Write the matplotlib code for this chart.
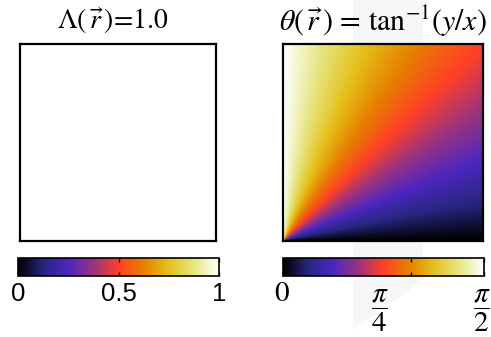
import numpy as np
import matplotlib
matplotlib.use('Agg')
import matplotlib.pyplot as plt
from matplotlib.patches import Polygon

plt.rcParams['mathtext.fontset'] = 'stix'
plt.rcParams['font.family'] = ['Liberation Serif', 'DejaVu Serif']

# data
n_grid = 200
lambda_value = 1.0
left_ticks = [0, 0.5, 1]
left_ticklabels = ['0', '0.5', '1']
right_tickmarks = [0, 1, np.pi / 2]
right_labels = [r'$0$', r'$\dfrac{\pi}{4}$', r'$\dfrac{\pi}{2}$']
right_label_vals = [0, np.pi / 4, np.pi / 2]

xs = np.linspace(0, 1, n_grid)
ys = np.linspace(0, 1, n_grid)
X, Y = np.meshgrid(xs, ys)
theta = np.arctan2(Y, X)
lam = np.full_like(X, lambda_value)

W, H = 491, 337
fig = plt.figure(figsize=(W / 100, H / 100), dpi=100)


def px_axes(x0, y0, x1, y1):
    return fig.add_axes([x0 / W, 1 - y1 / H, (x1 - x0) / W, (y1 - y0) / H])


# faint watermark behind everything
wm = [(353, 0), (423, 0), (423, 280), (353, 330)]
fig.add_artist(Polygon([(x / W, 1 - y / H) for x, y in wm], closed=True,
                       transform=fig.transFigure, facecolor='#f6f7f9',
                       edgecolor='none', zorder=-10))

cmap = plt.get_cmap('CMRmap')

ax1 = px_axes(20, 44, 216, 241)
ax1.imshow(lam, cmap=cmap, vmin=0, vmax=1, origin='lower', aspect='auto')
ax1.set_xticks([])
ax1.set_yticks([])
for s in ax1.spines.values():
    s.set_linewidth(1.6)
fig.text(113 / W, 1 - 21 / H, r'$\Lambda\left(\,\vec{r}\,\right)\!=\!1.0$',
         ha='center', va='center', fontsize=20)

ax2 = px_axes(283, 44, 483, 241)
im2 = ax2.imshow(theta, cmap=cmap, vmin=0, vmax=np.pi / 2, origin='lower',
                 aspect='auto')
ax2.set_xticks([])
ax2.set_yticks([])
for s in ax2.spines.values():
    s.set_linewidth(1.6)
fig.text(383 / W, 1 - 21 / H,
         r'$\theta\left(\,\vec{r}\,\right)\,=\,\tan^{-1}\!\left(y/x\right)$',
         ha='center', va='center', fontsize=21.5)

# colorbars
cax1 = px_axes(18, 258, 219, 276)
cb1 = fig.colorbar(plt.cm.ScalarMappable(norm=plt.Normalize(0, 1), cmap=cmap),
                   cax=cax1, orientation='horizontal')
cb1.set_ticks(left_ticks)
cax1.tick_params(direction='in', top=True, bottom=True, length=3, width=1,
                 labelbottom=False)
cb1.outline.set_linewidth(1.2)
for v, lab in zip(left_ticks, left_ticklabels):
    fig.text((18 + v * 201) / W, 1 - 294 / H, lab, ha='center', va='center',
             fontsize=18.5, family='Liberation Sans')

cax2 = px_axes(283, 258, 484, 276)
cb2 = fig.colorbar(plt.cm.ScalarMappable(norm=plt.Normalize(0, np.pi / 2),
                                         cmap=cmap),
                   cax=cax2, orientation='horizontal')
cb2.set_ticks(right_tickmarks)
cax2.tick_params(direction='in', top=True, bottom=True, length=3, width=1,
                 labelbottom=False)
cb2.outline.set_linewidth(1.2)
label_x = [282, 380, 482]
label_y = [294, 311, 311]
for lx, ly, lab in zip(label_x, label_y, right_labels):
    fig.text(lx / W, 1 - ly / H, lab, ha='center', va='center', fontsize=21)

fig.savefig('out.png', dpi=100)
